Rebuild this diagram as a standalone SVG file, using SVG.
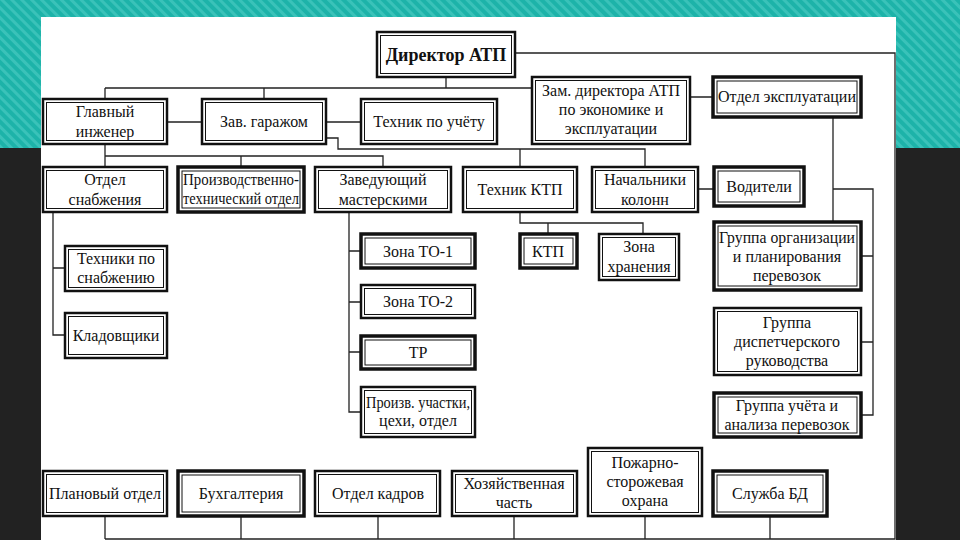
<svg xmlns="http://www.w3.org/2000/svg" width="960" height="540" viewBox="0 0 960 540">
<defs>
<pattern id="st" width="7" height="7" patternUnits="userSpaceOnUse" patternTransform="rotate(-45)">
<rect width="7" height="7" fill="#1db3a9"/>
<rect width="3" height="7" fill="#3ac2b9"/>
</pattern>
<style>
.o{fill:#fff;stroke:#111;stroke-width:2.5}
.oh{fill:#fff;stroke:#111;stroke-width:3.5}
.i{fill:none;stroke:#111;stroke-width:1}
.t{font-family:"Liberation Serif","Times New Roman",serif;font-size:16px;fill:#111;text-anchor:middle}
.b{font-weight:bold;font-size:18px}
.c{fill:none;stroke:#222;stroke-width:1.3}
</style>
</defs>
<rect width="960" height="148" fill="url(#st)"/>
<rect y="148" width="960" height="392" fill="#222"/>
<rect x="41" y="17" width="855" height="523" fill="#fff"/>

<g id="connectors" class="c">
<path d="M515 53H895V539H105"/>
<path d="M105 516V539M241 516V539M378 516V539M514 516V539M645 516V539M770 516V539"/>
<path d="M446 77V88M105 88H532M105 88V99M264 88V99"/>
<path d="M167 122H202M326 122H361M690 97H713"/>
<path d="M105 144V167M105 156H383V167M241 156V167"/>
<path d="M326 138H338V149H645V167M520 149V167"/>
<path d="M833 117V222M833 189H873V415H861M861 256H873M861 342H873M698 189H714"/>
<path d="M53 212V335H65M53 268H65"/>
<path d="M349 212V412H361M349 251H361M349 302H361M349 352H361"/>
<path d="M520 212V223H643V234M548 223V234"/>
</g>

<g id="director"><rect class="o" x="377" y="32" width="138" height="45"/><rect class="i" x="380.5" y="35.5" width="131" height="38"/><text class="t b" x="446" y="61">Директор АТП</text></g>

<g id="chief-engineer"><rect class="o" x="43" y="99" width="124" height="45"/><rect class="i" x="46.5" y="102.5" width="117" height="38"/><text class="t" x="105" y="117">Главный</text><text class="t" x="105" y="137">инженер</text></g>
<g id="garage"><rect class="o" x="202" y="99" width="124" height="45"/><rect class="i" x="205.5" y="102.5" width="117" height="38"/><text class="t" x="264" y="127">Зав. гаражом</text></g>
<g id="accounting-tech"><rect class="o" x="361" y="99" width="136" height="45"/><rect class="i" x="364.5" y="102.5" width="129" height="38"/><text class="t" x="429" y="127">Техник по учёту</text></g>
<g id="deputy"><rect class="o" x="532" y="77" width="158" height="67"/><rect class="i" x="535.5" y="80.5" width="151" height="60"/><text class="t" x="611" y="96">Зам. директора АТП</text><text class="t" x="611" y="115">по экономике и</text><text class="t" x="611" y="134">эксплуатации</text></g>
<g id="operations"><rect class="oh" x="713" y="77" width="148" height="40"/><rect class="i" x="717" y="81" width="140" height="32"/><text class="t" x="787" y="102">Отдел эксплуатации</text></g>

<g id="supply"><rect class="o" x="43" y="167" width="124" height="45"/><rect class="i" x="46.5" y="170.5" width="117" height="38"/><text class="t" x="105" y="185">Отдел</text><text class="t" x="105" y="205">снабжения</text></g>
<g id="ptd"><rect class="oh" x="178" y="167" width="126" height="45"/><rect class="i" x="182" y="171" width="118" height="37"/><text class="t" x="241" y="185" font-size="15" textLength="116" lengthAdjust="spacingAndGlyphs">Производственно-</text><text class="t" x="241" y="204" font-size="15" textLength="116" lengthAdjust="spacingAndGlyphs">технический отдел</text></g>
<g id="workshops"><rect class="o" x="315" y="167" width="136" height="45"/><rect class="i" x="318.5" y="170.5" width="129" height="38"/><text class="t" x="383" y="185">Заведующий</text><text class="t" x="383" y="205">мастерскими</text></g>
<g id="ktp-tech"><rect class="o" x="463" y="167" width="114" height="45"/><rect class="i" x="466.5" y="170.5" width="107" height="38"/><text class="t" x="520" y="195">Техник КТП</text></g>
<g id="column-heads"><rect class="o" x="592" y="167" width="106" height="45"/><rect class="i" x="595.5" y="170.5" width="99" height="38"/><text class="t" x="645" y="185">Начальники</text><text class="t" x="645" y="205">колонн</text></g>
<g id="drivers"><rect class="oh" x="714" y="167" width="90" height="39"/><rect class="i" x="718" y="171" width="82" height="31"/><text class="t" x="759" y="192">Водители</text></g>

<g id="supply-techs"><rect class="o" x="65" y="246" width="102" height="45"/><rect class="i" x="68.5" y="249.5" width="95" height="38"/><text class="t" x="116" y="264">Техники по</text><text class="t" x="116" y="283">снабжению</text></g>
<g id="storekeepers"><rect class="o" x="65" y="313" width="102" height="45"/><rect class="i" x="68.5" y="316.5" width="95" height="38"/><text class="t" x="116" y="341">Кладовщики</text></g>

<g id="zone-to1"><rect class="oh" x="361" y="234" width="114" height="34"/><rect class="i" x="365" y="238" width="106" height="26"/><text class="t" x="418" y="257">Зона ТО-1</text></g>
<g id="zone-to2"><rect class="o" x="361" y="285" width="114" height="33"/><rect class="i" x="364.5" y="288.5" width="107" height="26"/><text class="t" x="418" y="307">Зона ТО-2</text></g>
<g id="tr"><rect class="oh" x="361" y="336" width="114" height="33"/><rect class="i" x="365" y="340" width="106" height="25"/><text class="t" x="418" y="358">ТР</text></g>
<g id="sections"><rect class="o" x="361" y="387" width="114" height="50"/><rect class="i" x="364.5" y="390.5" width="107" height="43"/><text class="t" x="418" y="408" font-size="15" textLength="104" lengthAdjust="spacingAndGlyphs">Произв. участки,</text><text class="t" x="418" y="426" font-size="15">цехи, отдел</text></g>

<g id="ktp"><rect class="oh" x="520" y="234" width="57" height="34"/><rect class="i" x="524" y="238" width="49" height="26"/><text class="t" x="548" y="257">КТП</text></g>
<g id="storage"><rect class="o" x="599" y="234" width="80" height="46"/><rect class="i" x="602.5" y="237.5" width="73" height="39"/><text class="t" x="639" y="252">Зона</text><text class="t" x="639" y="272">хранения</text></g>

<g id="planning-group"><rect class="oh" x="714" y="222" width="147" height="68"/><rect class="i" x="718" y="226" width="139" height="60"/><text class="t" x="787" y="243" textLength="136" lengthAdjust="spacingAndGlyphs">Группа организации</text><text class="t" x="787" y="262">и планирования</text><text class="t" x="787" y="281">перевозок</text></g>
<g id="dispatch-group"><rect class="o" x="714" y="308" width="147" height="67"/><rect class="i" x="717.5" y="311.5" width="140" height="60"/><text class="t" x="787" y="328">Группа</text><text class="t" x="787" y="347">диспетчерского</text><text class="t" x="787" y="366">руководства</text></g>
<g id="analysis-group"><rect class="oh" x="714" y="393" width="147" height="44"/><rect class="i" x="718" y="397" width="139" height="36"/><text class="t" x="787" y="411">Группа учёта и</text><text class="t" x="787" y="430">анализа перевозок</text></g>

<g id="planning-dept"><rect class="o" x="43" y="471" width="124" height="45"/><rect class="i" x="46.5" y="474.5" width="117" height="38"/><text class="t" x="105" y="499">Плановый отдел</text></g>
<g id="bookkeeping"><rect class="oh" x="178" y="471" width="126" height="45"/><rect class="i" x="182" y="475" width="118" height="37"/><text class="t" x="241" y="499">Бухгалтерия</text></g>
<g id="hr"><rect class="o" x="315" y="471" width="125" height="45"/><rect class="i" x="318.5" y="474.5" width="118" height="38"/><text class="t" x="378" y="499">Отдел кадров</text></g>
<g id="household"><rect class="o" x="452" y="471" width="125" height="45"/><rect class="i" x="455.5" y="474.5" width="118" height="38"/><text class="t" x="514" y="489">Хозяйственная</text><text class="t" x="514" y="508">часть</text></g>
<g id="fire-guard"><rect class="o" x="588" y="448" width="114" height="68"/><rect class="i" x="591.5" y="451.5" width="107" height="61"/><text class="t" x="645" y="468">Пожарно-</text><text class="t" x="645" y="487">сторожевая</text><text class="t" x="645" y="506">охрана</text></g>
<g id="bd-service"><rect class="oh" x="713" y="471" width="114" height="45"/><rect class="i" x="717" y="475" width="106" height="37"/><text class="t" x="770" y="499">Служба БД</text></g>
</svg>
